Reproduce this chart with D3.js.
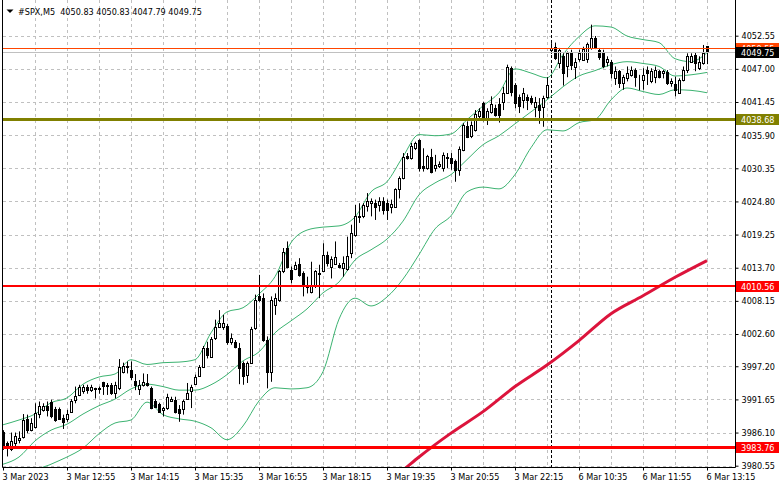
<!DOCTYPE html>
<html><head><meta charset="utf-8">
<script src="https://cdn.jsdelivr.net/npm/d3@7"></script>
<style>
html,body{margin:0;padding:0;background:#fff;}
svg{display:block;font-family:"DejaVu Sans Condensed","DejaVu Sans",sans-serif;}
</style></head><body><svg id="c" width="781" height="489"></svg>
<script>
// ---------- DATA ----------
const symbolTitle = "#SPX,M5  4050.83 4050.83 4047.79 4049.75";

const opens = [
3986.2,3984.3,3983.3,3984.4,3984.9,3985.4,3988.3,3986.5,3987.1,3989.2,
3989.8,3990.6,3991.2,3990.0,3990.1,3988.5,3988.3,3989.6,3991.6,3992.4,
3993.0,3993.7,3993.2,3993.5,3993.5,3994.5,3994.1,3994.1,3992.7,3993.5,
3996.3,3997.0,3996.6,3994.7,3993.4,3994.0,3994.4,3993.5,3991.3,3990.8,
3989.8,3990.2,3991.4,3991.6,3990.1,3990.0,3991.8,3993.1,3994.2,3995.5,
3997.1,4000.3,3998.8,4001.9,4003.8,4003.8,4004.0,4001.3,4001.3,4000.2,
3997.7,3995.8,3997.8,4003.6,4008.9,4008.6,4001.6,3996.3,4007.5,4008.3,
4013.1,4017.0,4013.3,4013.5,4014.3,4012.8,4010.8,4009.7,4010.8,4012.8,
4013.2,4015.9,4013.9,4014.3,4014.1,4013.6,4013.5,4016.1,4019.2,4022.2,
4022.3,4024.1,4024.5,4024.6,4024.2,4024.8,4024.5,4023.9,4023.9,4026.9,
4028.7,4032.4,4032.0,4033.7,4035.1,4030.8,4030.4,4032.2,4030.4,4030.8,
4030.4,4032.3,4032.0,4031.5,4030.1,4033.4,4037.5,4035.7,4036.8,4039.1,
4041.3,4038.5,4039.7,4040.4,4041.1,4041.4,4043.0,4047.1,4044.3,4042.3,
4041.8,4042.3,4042.1,4040.6,4041.0,4040.6,4042.3,4050.1,4050.7,4048.0,
4049.1,4047.4,4049.7,4047.3,4048.6,4048.5,4048.6,4050.5,4052.1,4050.2,
4049.9,4048.1,4048.2,4045.4,4046.6,4044.6,4045.4,4046.0,4046.8,4045.0,
4045.2,4046.8,4044.9,4045.7,4046.6,4046.3,4046.4,4044.6,4044.5,4043.0,
4045.2,4046.8,4048.2,4049.4,4047.2,4048.0,4050.83];

const highs = [
3986.5,3984.6,3986.1,3986.1,3986.3,3989.2,3989.1,3988.5,3991.0,3991.3,
3991.0,3991.3,3991.6,3990.4,3990.3,3989.1,3989.9,3991.7,3993.8,3994.1,
3994.1,3994.1,3994.1,3993.6,3993.8,3994.6,3994.4,3994.4,3994.6,3998.4,
3997.8,3998.0,3998.0,3995.9,3994.9,3996.0,3995.9,3993.8,3991.7,3991.1,
3990.4,3992.6,3992.1,3992.1,3990.7,3991.6,3994.4,3994.1,3995.8,3997.4,
4000.6,4001.3,4002.1,4005.0,4006.6,4005.8,4004.3,4002.7,4001.6,4001.1,
3998.0,3998.0,4003.8,4009.2,4012.5,4009.4,4002.2,4008.9,4009.4,4013.3,
4017.0,4018.1,4013.9,4014.7,4015.3,4013.1,4012.2,4014.7,4013.3,4014.2,
4017.8,4016.4,4015.6,4018.1,4014.5,4015.6,4018.9,4020.9,4024.2,4024.5,
4024.5,4026.2,4025.3,4025.1,4025.5,4025.5,4025.1,4025.1,4027.0,4029.0,
4032.9,4032.9,4034.6,4034.8,4035.2,4033.7,4032.6,4033.6,4032.6,4031.5,
4033.0,4032.9,4032.9,4031.8,4034.0,4037.9,4038.2,4038.2,4040.1,4040.4,
4041.5,4040.4,4042.4,4041.0,4042.1,4044.0,4047.7,4047.4,4044.6,4042.7,
4043.8,4042.7,4042.5,4042.3,4042.1,4042.5,4045.6,4051.3,4051.4,4050.5,
4049.6,4049.9,4050.2,4048.8,4050.2,4050.7,4051.4,4054.4,4052.5,4050.5,
4050.2,4049.1,4048.5,4047.4,4046.8,4046.0,4047.4,4047.4,4047.1,4046.0,
4047.1,4047.4,4047.1,4047.4,4046.8,4046.8,4046.8,4045.4,4045.7,4045.4,
4047.4,4049.6,4049.6,4049.7,4049.1,4051.0,4050.83];

const lows = [
3983.2,3982.1,3983.0,3983.5,3984.3,3985.1,3986.0,3986.3,3986.8,3988.5,
3989.6,3988.8,3988.5,3987.9,3988.2,3986.7,3987.9,3989.4,3991.0,3992.2,
3992.6,3992.6,3992.9,3991.8,3992.6,3992.4,3992.4,3992.4,3991.8,3993.2,
3996.0,3996.0,3994.9,3993.2,3992.4,3993.8,3993.8,3990.0,3990.2,3989.4,
3988.8,3989.9,3991.3,3989.3,3987.9,3989.1,3991.6,3990.2,3994.1,3995.4,
3996.9,3998.5,3998.7,4001.6,4003.6,4003.3,4000.8,4000.8,4000.2,3994.2,
3994.1,3994.4,3997.7,4003.3,4008.0,4001.3,3993.5,3994.6,4005.8,4008.0,
4012.8,4013.6,4011.1,4013.3,4012.2,4008.9,4009.4,4009.4,4010.3,4008.6,
4013.1,4013.9,4011.9,4014.2,4013.6,4012.2,4013.2,4015.3,4018.9,4021.2,
4022.0,4023.1,4022.3,4021.7,4023.1,4022.6,4021.7,4022.8,4023.7,4025.3,
4028.5,4031.8,4031.8,4033.4,4029.8,4029.8,4030.1,4029.5,4029.8,4030.4,
4029.8,4030.4,4030.1,4028.1,4029.1,4033.2,4035.4,4035.4,4036.5,4038.5,
4038.2,4037.6,4039.5,4039.0,4038.0,4040.1,4042.9,4042.4,4040.4,4039.6,
4040.4,4040.1,4041.0,4038.9,4037.8,4037.3,4042.0,4049.5,4048.5,4047.1,
4044.2,4045.6,4046.8,4045.3,4048.2,4048.4,4048.0,4050.2,4050.3,4048.5,
4047.1,4047.4,4045.4,4044.3,4043.8,4043.5,4044.9,4045.7,4044.0,4043.4,
4043.5,4044.3,4044.6,4044.6,4045.4,4045.4,4044.3,4044.0,4042.4,4042.8,
4044.9,4046.3,4048.0,4046.6,4046.8,4047.7,4047.79];

const closes = [
3983.7,3983.5,3984.7,3985.5,3985.2,3988.2,3986.5,3987.7,3989.3,3990.6,
3990.6,3989.9,3988.9,3988.2,3988.3,3987.9,3989.2,3991.4,3992.2,3993.8,
3993.8,3993.2,3993.8,3993.4,3993.4,3993.9,3993.9,3992.7,3994.1,3997.1,
3997.3,3997.3,3995.4,3994.0,3994.0,3994.6,3994.0,3990.2,3990.4,3989.6,
3990.2,3992.1,3991.8,3989.6,3989.4,3991.3,3992.8,3993.8,3995.4,3997.1,
4000.2,3999.1,4001.7,4003.7,4004.4,4004.5,4001.3,4001.9,4000.4,3996.9,
3995.5,3997.7,4003.4,4008.3,4008.3,4001.6,3996.3,4008.3,4008.6,4013.1,
4016.4,4013.9,4011.8,4014.2,4012.5,4010.8,4010.5,4010.8,4013.1,4012.6,
4015.9,4014.5,4015.1,4015.5,4013.9,4014.5,4015.7,4019.5,4022.3,4022.4,
4024.2,4024.8,4024.8,4023.9,4024.8,4023.4,4023.4,4024.3,4026.9,4028.7,
4032.3,4032.0,4034.0,4034.6,4030.4,4030.4,4032.4,4029.8,4030.9,4031.1,
4032.6,4032.0,4031.3,4030.1,4033.6,4037.6,4035.6,4037.6,4039.5,4040.0,
4038.5,4040.0,4041.1,4039.3,4039.3,4042.9,4047.3,4043.2,4041.3,4040.8,
4043.0,4041.7,4041.5,4041.4,4040.1,4042.1,4044.3,4050.5,4048.8,4050.1,
4046.3,4049.6,4047.7,4048.1,4049.7,4050.3,4051.2,4052.1,4050.6,4049.0,
4047.4,4048.6,4046.3,4046.6,4044.6,4045.6,4046.3,4046.8,4045.7,4044.9,
4046.0,4046.3,4046.6,4046.8,4045.7,4046.6,4044.6,4044.9,4043.5,4045.2,
4046.8,4049.1,4049.1,4048.0,4048.2,4049.7,4049.75];

// Bollinger bands, read every 4 bars (bar index 0,4,...,176)
const bandUpper = [3987.4,3988.2,3989.2,3991.1,3991.9,3994.2,3995.4,3995.9,3998.3,3997.5,
3997.8,3997.9,3998.3,4002.8,4006.3,4007.0,4009.3,4012.2,4017.9,4020.0,
4020.5,4020.7,4022.2,4026.4,4028.1,4032.3,4036.0,4035.8,4036.1,4038.5,
4040.8,4043.0,4047.0,4046.3,4045.5,4049.4,4052.4,4054.2,4054.0,4052.5,
4051.9,4051.4,4048.7,4048.2,4049.7];
const bandMiddle = [3980.8,3982.0,3984.7,3986.5,3987.5,3989.2,3990.6,3991.7,3993.4,3994.2,
3993.8,3993.2,3993.2,3994.1,3995.8,3998.1,3999.6,4002.8,4004.8,4006.8,
4009.5,4011.3,4015.0,4016.7,4018.5,4021.5,4025.9,4027.9,4029.3,4031.8,
4034.3,4035.8,4037.8,4039.8,4041.8,4044.0,4045.8,4046.7,4047.7,4048.2,
4047.9,4047.4,4045.8,4046.0,4046.4];
const bandLower = [3974.3,3975.8,3979.5,3980.8,3982.0,3983.5,3985.9,3987.7,3988.2,3991.2,
3989.1,3988.4,3988.0,3986.9,3984.9,3987.2,3991.4,3993.6,3993.4,3993.6,
3996.3,4005.1,4008.6,4007.3,4008.8,4011.8,4015.9,4020.2,4022.4,4026.4,
4027.2,4026.9,4029.3,4033.8,4036.8,4036.6,4038.0,4038.5,4041.8,4043.8,
4043.2,4042.7,4043.5,4043.4,4043.0];

// Long moving average (red)
const maIndex = [96,100,104,112,120,128,136,144,152,160,168,176];
const maValue = [3977.7,3979.8,3982.0,3986.0,3989.6,3993.8,3997.4,4001.5,4006.0,4009.0,4012.1,4014.9];

// Horizontal price levels
const levelValues = [4050.55, 4049.75, 4038.68, 4010.56, 3983.76];

const priceTicks = [4052.55,4047.00,4041.45,4035.90,4030.35,4024.80,4019.25,4013.70,4008.15,4002.60,3997.20,3991.65,3986.10,3980.55];
const timeLabels = ["3 Mar 2023","3 Mar 12:55","3 Mar 14:15","3 Mar 15:35","3 Mar 16:55","3 Mar 18:15","3 Mar 19:35","3 Mar 20:55","3 Mar 22:15","6 Mar 10:35","6 Mar 11:55","6 Mar 13:15"];
const timeLabelIndex = [0,16,32,48,64,80,96,112,128,144,160,176];
const sessionBreakIndex = 137;

// ---------- DRAW ----------
const FONT = '"DejaVu Sans Condensed","DejaVu Sans",sans-serif';
const FS = 9;
const W = 781, H = 489;
const L = 3, R = 735, B = 467;
const svg = d3.select('#c');
svg.append('rect').attr('width', W).attr('height', H).attr('fill', '#fff');

const x = d3.scaleLinear().domain([0, 176]).range([3, 707]);
const y = d3.scaleLinear().domain([3980.55, 4052.55]).range([465.7, 35.7]);
const px = v => Math.round(v) + 0.5;

svg.append('defs').append('clipPath').attr('id', 'clip')
  .append('rect').attr('x', L).attr('y', 0).attr('width', R - L).attr('height', B);

const plot = svg.append('g').attr('clip-path', 'url(#clip)');

// grid
const grid = plot.append('g').attr('stroke', '#c0c0c0').attr('stroke-width', 1).attr('stroke-dasharray', '3,3');
grid.selectAll('line.h').data(priceTicks).join('line').attr('class', 'h')
  .attr('x1', L).attr('x2', R).attr('y1', d => px(y(d))).attr('y2', d => px(y(d)));
grid.selectAll('line.v').data(d3.range(8, 177, 8)).join('line').attr('class', 'v')
  .attr('y1', 0).attr('y2', B).attr('x1', d => px(x(d))).attr('x2', d => px(x(d)));

// session separator
plot.append('line').attr('x1', px(x(sessionBreakIndex))).attr('x2', px(x(sessionBreakIndex)))
  .attr('y1', 0).attr('y2', B).attr('stroke', '#000').attr('stroke-dasharray', '3,2');

// bands
const bandIdx = d3.range(0, 177, 4);
const bandLine = d3.line().x((d, k) => x(bandIdx[k])).y(d => y(d)).curve(d3.curveMonotoneX);
[bandUpper, bandMiddle, bandLower].forEach(arr => {
  plot.append('path').attr('d', bandLine(arr)).attr('fill', 'none')
    .attr('stroke', '#3cb371').attr('stroke-width', 1);
});

// moving average
const maLine = d3.line().x((d, k) => x(maIndex[k])).y(d => y(d)).curve(d3.curveMonotoneX);
plot.append('path').attr('d', maLine(maValue)).attr('fill', 'none')
  .attr('stroke', '#dc143c').attr('stroke-width', 3).attr('stroke-linejoin', 'round');

// candles
const bars = d3.range(opens.length);
const cg = plot.append('g');
cg.selectAll('line.w').data(bars).join('line').attr('class', 'w')
  .attr('x1', i => px(x(i))).attr('x2', i => px(x(i)))
  .attr('y1', i => y(highs[i])).attr('y2', i => y(lows[i]))
  .attr('stroke', '#000').attr('stroke-width', 1);
cg.selectAll('rect.b').data(bars).join('rect').attr('class', 'b')
  .attr('x', i => Math.round(x(i)) - 1 + 0.5)
  .attr('width', 2)
  .attr('y', i => Math.round(y(Math.max(opens[i], closes[i]))) + 0.5)
  .attr('height', i => Math.max(0, Math.round(y(Math.min(opens[i], closes[i]))) - Math.round(y(Math.max(opens[i], closes[i])))))
  .attr('fill', i => closes[i] >= opens[i] ? '#fff' : '#000')
  .attr('stroke', '#000').attr('stroke-width', 1);

// horizontal levels
const levelColor = ['#ff4500', '#c0c0c0', '#808000', '#ff0000', '#ff0000'];
const levelWidth = [1, 1, 3, 2, 3];
const levelBoxColor = ['#ff4500', '#000000', '#808000', '#ff0000', '#ff0000'];
plot.selectAll('line.lv').data(levelValues).join('line').attr('class', 'lv')
  .attr('x1', L).attr('x2', R)
  .attr('y1', (d, k) => levelWidth[k] % 2 ? px(y(d)) : Math.round(y(d)))
  .attr('y2', (d, k) => levelWidth[k] % 2 ? px(y(d)) : Math.round(y(d)))
  .attr('stroke', (d, k) => levelColor[k]).attr('stroke-width', (d, k) => levelWidth[k]);

// frame
svg.append('path').attr('d', `M${L - 0.5},0V${B + 0.5}H${R + 0.5}V0`).attr('fill', 'none').attr('stroke', '#000');

// price axis
const yAxis = d3.axisRight(y).tickValues(priceTicks).tickFormat(d3.format('.2f')).tickSize(3).tickPadding(3);
const ya = svg.append('g').attr('transform', `translate(${R + 0.5},0)`).call(yAxis);
ya.select('.domain').remove();
ya.selectAll('text').attr('font-size', FS).attr('font-family', FONT).attr('fill', '#000');
ya.selectAll('line').attr('stroke', '#000');

// time axis
const xAxis = d3.axisBottom(x).tickValues(timeLabelIndex).tickFormat((d, k) => timeLabels[k]).tickSize(3).tickPadding(3);
const xa = svg.append('g').attr('transform', `translate(0,${B + 0.5})`).call(xAxis);
xa.select('.domain').remove();
xa.selectAll('text').attr('text-anchor', 'start').attr('x', -1).attr('font-size', FS)
  .attr('font-family', FONT).attr('fill', '#000');
xa.selectAll('line').attr('stroke', '#000');

// level labels (later ones drawn on top; the bid label last)
const lb = svg.append('g');
const drawOrder = [0, 2, 3, 4, 1];
drawOrder.forEach(k => {
  const v = levelValues[k];
  const yy = Math.round(y(v));
  lb.append('rect').attr('x', R + 1).attr('y', yy - 5).attr('width', 43).attr('height', 11)
    .attr('fill', levelBoxColor[k]);
  lb.append('text').attr('x', R + 6).attr('y', yy + 0.5).attr('dy', '0.35em')
    .attr('font-size', FS).attr('font-family', FONT).attr('fill', '#fff').text(d3.format('.2f')(v));
});

// title
svg.append('path').attr('d', 'M6.5,9.5H13.5L10,13Z').attr('fill', '#000');
svg.append('text').attr('x', 18).attr('y', 14.5).attr('font-size', FS).attr('font-family', FONT).attr('fill', '#000')
  .attr('xml:space', 'preserve').style('white-space', 'pre').text(symbolTitle);
</script></body></html>
